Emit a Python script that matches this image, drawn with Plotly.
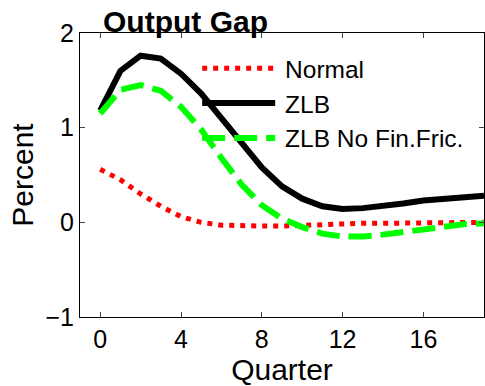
import plotly.graph_objects as go

quarters = list(range(20))
normal = [0.56, 0.45, 0.30, 0.17, 0.06, 0.00, -0.03, -0.04, -0.04, -0.04,
          -0.03, -0.02, -0.02, -0.01, -0.01, -0.01, 0.0, 0.0, 0.0, 0.0]
zlb = [1.18, 1.60, 1.76, 1.73, 1.57, 1.36, 1.10, 0.83, 0.58, 0.38,
       0.25, 0.17, 0.14, 0.15, 0.17, 0.20, 0.23, 0.25, 0.27, 0.28]
zlb_nofin = [1.15, 1.40, 1.45, 1.39, 1.22, 0.98, 0.68, 0.40, 0.18, 0.04,
             -0.05, -0.12, -0.15, -0.15, -0.13, -0.10, -0.07, -0.04, -0.02, -0.01]
series_names = ["Normal", "ZLB", "ZLB No Fin.Fric."]
x_ticks = [0, 4, 8, 12, 16]
y_ticks = [-1, 0, 1, 2]

FONT = "Liberation Sans, Arial, sans-serif"
PAD = "\u2009"

fig = go.Figure()
fig.add_trace(go.Scatter(x=quarters, y=normal, mode="lines", name=PAD + series_names[0],
                         line=dict(color="#ff0000", width=5, dash="5px,6px")))
fig.add_trace(go.Scatter(x=quarters, y=zlb, mode="lines", name=PAD + series_names[1],
                         line=dict(color="#000000", width=6)))
fig.add_trace(go.Scatter(x=quarters, y=zlb_nofin, mode="lines", name=PAD + series_names[2],
                         line=dict(color="#00ff00", width=6, dash="23px,9px")))

fig.update_layout(
    width=485, height=386,
    margin=dict(l=80, r=1, t=33, b=69, autoexpand=False),
    paper_bgcolor="white", plot_bgcolor="white",
    font=dict(family=FONT, size=25, color="black"),
    title=dict(text="<b>Output Gap</b>", font=dict(size=30, family=FONT),
               x=103/485, xanchor="left", xref="container",
               y=1 - 21/386, yanchor="middle", yref="container"),
    showlegend=True,
    legend=dict(x=0.29, y=0.955, xanchor="left", yanchor="top",
                bgcolor="rgba(0,0,0,0)", borderwidth=0,
                font=dict(size=24.5, family=FONT), itemwidth=73,
                tracegroupgap=0),
)
fig.update_xaxes(range=[-1, 19], tickvals=x_ticks, ticks="inside", ticklen=5,
                 showline=True, linecolor="black", linewidth=1, mirror="ticks",
                 showgrid=False, zeroline=False, automargin=False,
                 title=dict(text="Quarter", standoff=2),
                 tickfont=dict(size=25))
fig.update_yaxes(range=[-1, 2], tickvals=y_ticks, ticks="inside", ticklen=5,
                 showline=True, linecolor="black", linewidth=1, mirror="ticks",
                 showgrid=False, zeroline=False, automargin=False,
                 title=dict(text="Percent", standoff=2),
                 tickfont=dict(size=25))

fig.write_html("out.html", config={"displayModeBar": False},
               post_script="document.body.style.margin='0';document.body.style.overflow='hidden';")
